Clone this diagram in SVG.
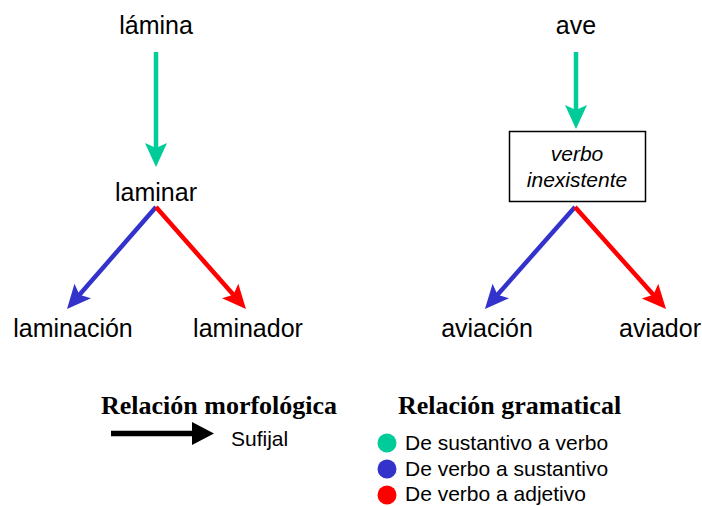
<svg xmlns="http://www.w3.org/2000/svg" width="702" height="506" viewBox="0 0 702 506">
<style>
.w{font-family:"Liberation Sans",Arial,sans-serif;font-size:25px;fill:#000;text-anchor:middle}
.it{font-family:"Liberation Sans",Arial,sans-serif;font-size:21px;font-style:italic;fill:#000;text-anchor:middle}
.h{font-family:"Liberation Serif","Times New Roman",serif;font-size:26px;font-weight:bold;fill:#000}
.l{font-family:"Liberation Sans",Arial,sans-serif;font-size:21px;fill:#000}
.g{stroke:#00cc99;stroke-width:4.5;fill:none}
.b{stroke:#3333cc;stroke-width:4.5;fill:none}
.r{stroke:#ff0000;stroke-width:4.5;fill:none}
.k{stroke:#000;stroke-width:5.5;fill:none}
</style>
<defs>
<marker id="mg" markerUnits="userSpaceOnUse" markerWidth="24" markerHeight="24" viewBox="0 0 24 24" refX="10" refY="12" orient="auto"><path d="M0,1 L24,12 L0,23 L5,12 z" fill="#00cc99"/></marker>
<marker id="mb" markerUnits="userSpaceOnUse" markerWidth="24" markerHeight="24" viewBox="0 0 24 24" refX="10" refY="12" orient="auto"><path d="M0,1 L24,12 L0,23 L5,12 z" fill="#3333cc"/></marker>
<marker id="mr" markerUnits="userSpaceOnUse" markerWidth="24" markerHeight="24" viewBox="0 0 24 24" refX="10" refY="12" orient="auto"><path d="M0,1 L24,12 L0,23 L5,12 z" fill="#ff0000"/></marker>
<marker id="mk" markerUnits="userSpaceOnUse" markerWidth="24" markerHeight="24" viewBox="0 0 24 24" refX="10" refY="12" orient="auto"><path d="M0,0.5 L22,12 L0,23.5 z" fill="#000"/></marker>
</defs>
<rect width="702" height="506" fill="#fff"/>
<g id="lamina"><text class="w" x="156" y="34">lámina</text></g>
<g id="laminar"><text class="w" x="156" y="201">laminar</text></g>
<g id="laminacion"><text class="w" x="73" y="337">laminación</text></g>
<g id="laminador"><text class="w" x="248" y="337">laminador</text></g>
<g id="ave"><text class="w" x="576" y="34">ave</text></g>
<g id="verbo-inexistente"><rect x="509.5" y="131.5" width="136" height="70" fill="#fff" stroke="#000" stroke-width="1.5"/><text class="it" x="577" y="161">verbo</text><text class="it" x="577" y="187">inexistente</text></g>
<g id="aviacion"><text class="w" x="487" y="337">aviación</text></g>
<g id="aviador"><text class="w" x="660" y="337">aviador</text></g>
<g id="connectors">
<line class="g" x1="156" y1="52" x2="156" y2="153" marker-end="url(#mg)"/>
<line class="b" x1="156" y1="207" x2="76.2" y2="298.5" marker-end="url(#mb)"/>
<line class="r" x1="156" y1="207" x2="236.7" y2="298.5" marker-end="url(#mr)"/>
<line class="g" x1="576" y1="52" x2="576" y2="115" marker-end="url(#mg)"/>
<line class="b" x1="575" y1="207" x2="494.2" y2="298.5" marker-end="url(#mb)"/>
<line class="r" x1="575" y1="207" x2="656.7" y2="298.6" marker-end="url(#mr)"/>
</g>
<g id="legend-morfologica">
<text class="h" x="101" y="414">Relación morfológica</text>
<line class="k" x1="111" y1="433.5" x2="202" y2="433.5" marker-end="url(#mk)"/>
<text class="l" x="231" y="446">Sufijal</text>
</g>
<g id="legend-gramatical">
<text class="h" x="398" y="414">Relación gramatical</text>
<circle cx="387" cy="443" r="9.5" fill="#00cc99"/>
<text class="l" x="405" y="450">De sustantivo a verbo</text>
<circle cx="387" cy="469" r="9.5" fill="#3333cc"/>
<text class="l" x="405" y="475.5">De verbo a sustantivo</text>
<circle cx="387" cy="495" r="9.5" fill="#ff0000"/>
<text class="l" x="405" y="501">De verbo a adjetivo</text>
</g>
</svg>
